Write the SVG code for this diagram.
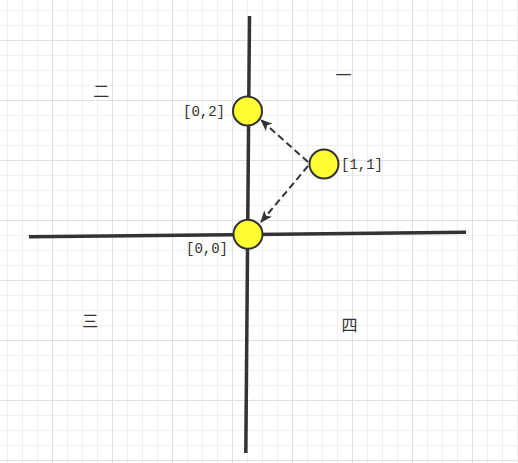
<svg xmlns="http://www.w3.org/2000/svg" width="518" height="463" viewBox="0 0 518 463">
  <style>
    .axis { stroke: #333333; stroke-width: 3.5; fill: none; }
    .node { fill: #ffff33; stroke: #333333; stroke-width: 2; }
    .lbl { font-family: "Liberation Mono", "DejaVu Sans Mono", monospace; font-size: 14px; fill: #333333; }
    .quad { font-family: "Noto Sans CJK SC", "Noto Sans", sans-serif; font-size: 16px; fill: #333333; text-anchor: middle; dominant-baseline: central; }
    .edge { stroke: #333333; stroke-width: 2; stroke-dasharray: 7 4; fill: none; marker-end: url(#arrow); }
  </style>
  <defs>
    <pattern id="minor" patternUnits="userSpaceOnUse" x="7" y="10" width="15" height="15">
      <path d="M0.5,0 V15 M0,0.5 H15" stroke="#efefef" stroke-width="1" fill="none"/>
    </pattern>
    <pattern id="major" patternUnits="userSpaceOnUse" x="52" y="40" width="60" height="60">
      <path d="M0.5,0 V60 M0,0.5 H60" stroke="#e0e0e0" stroke-width="1" fill="none"/>
    </pattern>
    <marker id="arrow" markerUnits="userSpaceOnUse" markerWidth="12" markerHeight="10" viewBox="0 0 12 10" refX="11" refY="5" orient="auto">
      <path d="M0,0 L12,5 L0,10 L3,5 Z" fill="#333333"/>
    </marker>
  </defs>
  <rect width="518" height="463" fill="#ffffff"/>
  <rect width="518" height="463" fill="url(#minor)"/>
  <rect width="518" height="463" fill="url(#major)"/>

  <g id="axes">
    <line class="axis" x1="249.5" y1="16" x2="245.8" y2="453"/>
    <line class="axis" x1="29" y1="236.7" x2="466" y2="232.3"/>
  </g>

  <g id="connectors">
    <line class="edge" x1="308" y1="162" x2="261" y2="120"/>
    <line class="edge" x1="308" y1="166" x2="261" y2="222"/>
  </g>

  <g id="node-0-2">
    <circle class="node" cx="247.5" cy="111" r="14.5"/>
    <text class="lbl" x="225" y="116" text-anchor="end">[0,2]</text>
  </g>
  <g id="node-1-1">
    <circle class="node" cx="324" cy="164" r="14.5"/>
    <text class="lbl" x="341" y="169">[1,1]</text>
  </g>
  <g id="node-0-0">
    <circle class="node" cx="248" cy="234.3" r="14.5"/>
    <text class="lbl" x="186" y="253">[0,0]</text>
  </g>

  <g id="quadrants">
    <text class="quad" x="343.4" y="74.3">一</text>
    <text class="quad" x="101.3" y="89.5">二</text>
    <text class="quad" x="90.3" y="320">三</text>
    <text class="quad" x="349.4" y="323.7">四</text>
  </g>
</svg>
